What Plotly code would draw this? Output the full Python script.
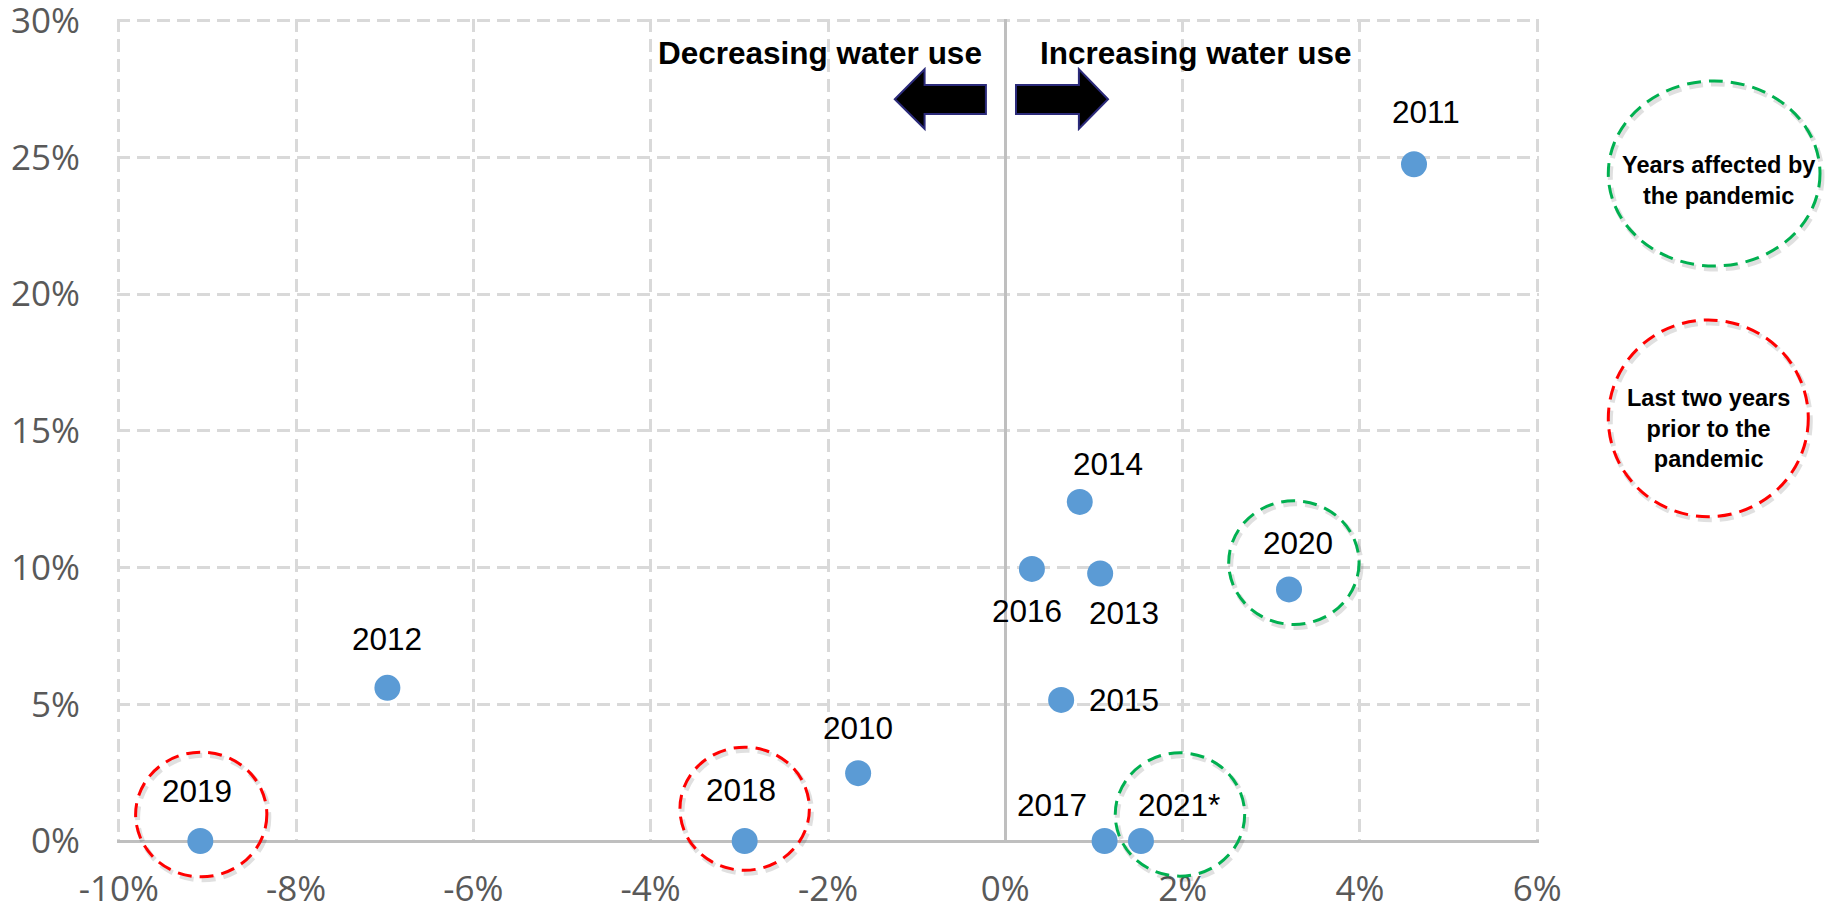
import plotly.graph_objects as go

# ---------------- data ----------------
years = ["2010", "2011", "2012", "2013", "2014", "2015", "2016", "2017", "2018", "2019", "2020", "2021*"]
change_water_use = [-1.66, 4.61, -6.97, 1.07, 0.84, 0.63, 0.30, 1.12, -2.94, -9.08, 3.20, 1.53]   # x, %
other_metric = [2.48, 24.75, 5.60, 9.78, 12.40, 5.16, 9.95, 0.0, 0.0, 0.0, 9.20, 0.0]              # y, %

x_tick_vals = [-10, -8, -6, -4, -2, 0, 2, 4, 6]
x_tick_text = ["-10%", "-8%", "-6%", "-4%", "-2%", "0%", "2%", "4%", "6%"]
y_tick_vals = [0, 5, 10, 15, 20, 25, 30]
y_tick_text = ["0%", "5%", "10%", "15%", "20%", "25%", "30%"]

pandemic_years = ["2020", "2021*"]
pre_pandemic_years = ["2018", "2019"]

header_left = "Decreasing water use"
header_right = "Increasing water use"
legend_green = "Years affected by<br>the pandemic"
legend_red = "Last two years<br>prior to the<br>pandemic"

# ---------------- styling / layout config ----------------
X_RANGE = (-10.02, 6.02)
Y_RANGE = (0, 30.06)
W, H = 1828, 912
ML, MR, MT, MB = 117, 289, 19, 71
PL, PR, PT, PB = ML, W - MR, MT, H - MB

# label offsets in pixels (dx, dy screen; dy positive = down)
LABEL_OFFSETS = {
    "2010": (0, -45), "2011": (12, -52), "2012": (0, -49), "2013": (24, 39),
    "2014": (28, -38), "2015": (63, 0), "2016": (-5, 42), "2017": (-53, -36),
    "2018": (-4, -51), "2019": (-3, -50), "2020": (9, -46), "2021*": (38, -36),
}
# highlight ellipse: centre shift from the point and half-sizes, in % units
ELL_GEOM = {
    "2019": (0.01, 0.97, 0.74, 2.28),
    "2018": (0.0, 1.18, 0.73, 2.25),
    "2020": (0.055, 0.98, 0.735, 2.26),
    "2021*": (0.44, 0.97, 0.73, 2.255),
}


def px_x(px):
    return (px - PL) / (PR - PL)


def px_y(py):
    return (PB - py) / (PB - PT)


def data_x(x):
    return (x - X_RANGE[0]) / (X_RANGE[1] - X_RANGE[0])


def data_y(y):
    return (y - Y_RANGE[0]) / (Y_RANGE[1] - Y_RANGE[0])


GRID = "#D9D9D9"
AXIS = "#BFBFBF"
TICK_FONT = dict(family="Open Sans, Liberation Sans, sans-serif", size=35, color="#595959")
LABEL_FONT = dict(family="Liberation Sans, Arial, sans-serif", size=31.5, color="black")
HEAD_FONT = dict(family="Liberation Sans, Arial, sans-serif", size=31.5, color="black")
LEG_FONT = dict(family="Liberation Sans, Arial, sans-serif", size=23.5, color="black")

fig = go.Figure()
fig.add_trace(go.Scatter(
    x=change_water_use, y=other_metric, mode="markers",
    marker=dict(size=26, color="#5B9BD5", line=dict(width=0)),
    cliponaxis=False, hoverinfo="text", text=years, showlegend=False,
))

annotations = []
for yr, xv, yv in zip(years, change_water_use, other_metric):
    dx, dy = LABEL_OFFSETS[yr]
    annotations.append(dict(
        x=xv, y=yv, xref="x", yref="y", text=yr, showarrow=False,
        xshift=dx, yshift=-dy, font=LABEL_FONT, xanchor="center", yanchor="middle",
    ))

# headers
annotations.append(dict(x=px_x(819.7), y=px_y(52.5), xref="paper", yref="paper", text="<b>%s</b>" % header_left,
                        showarrow=False, font=HEAD_FONT, xanchor="center", yanchor="middle"))
annotations.append(dict(x=px_x(1196.4), y=px_y(52.5), xref="paper", yref="paper", text="<b>%s</b>" % header_right,
                        showarrow=False, font=HEAD_FONT, xanchor="center", yanchor="middle"))
# legend texts
annotations.append(dict(x=px_x(1718), y=px_y(180), xref="paper", yref="paper", text="<b>%s</b>" % legend_green,
                        showarrow=False, font=LEG_FONT, xanchor="center", yanchor="middle", align="center"))
annotations.append(dict(x=px_x(1708.5), y=px_y(429), xref="paper", yref="paper", text="<b>%s</b>" % legend_red,
                        showarrow=False, font=LEG_FONT, xanchor="center", yanchor="middle", align="center"))

shapes = []


def dashed_ellipse(x0, y0, x1, y1, color):
    # soft shadow
    sx = 2 / (PR - PL)
    sy = 3 / (PB - PT)
    shapes.append(dict(type="circle", xref="paper", yref="paper",
                       x0=x0 + sx, x1=x1 + sx, y0=y0 - sy, y1=y1 - sy,
                       line=dict(color="rgba(0,0,0,0.12)", width=5, dash="14px,8px"), layer="above"))
    shapes.append(dict(type="circle", xref="paper", yref="paper", x0=x0, y0=y0, x1=x1, y1=y1,
                       line=dict(color=color, width=3, dash="14px,8px"), layer="above"))


for yr, xv, yv in zip(years, change_water_use, other_metric):
    if yr in pandemic_years or yr in pre_pandemic_years:
        col = "#00B050" if yr in pandemic_years else "#FF0000"
        sx, sy, rx, ry = ELL_GEOM[yr]
        cx, cy = xv + sx, yv + sy
        dashed_ellipse(data_x(cx - rx), data_y(cy - ry), data_x(cx + rx), data_y(cy + ry), col)

# legend ellipses
dashed_ellipse(px_x(1608.3), px_y(266), px_x(1820), px_y(81), "#00B050")
dashed_ellipse(px_x(1608.3), px_y(516.7), px_x(1808.3), px_y(320), "#FF0000")


def arrow_path(pts):
    return "M " + " L ".join("%f,%f" % (px_x(a), px_y(b)) for a, b in pts) + " Z"


left_arrow = [(894.8, 99.3), (924.6, 69.3), (924.6, 85), (985.9, 85), (985.9, 114), (924.6, 114), (924.6, 128.8)]
right_arrow = [(1108, 99.3), (1078.9, 69.3), (1078.9, 85), (1016, 85), (1016, 114), (1078.9, 114), (1078.9, 128.8)]
for pts in (left_arrow, right_arrow):
    shapes.append(dict(type="path", xref="paper", yref="paper", path=arrow_path(pts),
                       fillcolor="black", line=dict(color="#2B2A7A", width=2), layer="above"))

fig.update_layout(
    width=W, height=H,
    margin=dict(l=ML, r=MR, t=MT, b=MB, pad=0, autoexpand=False),
    paper_bgcolor="white", plot_bgcolor="white",
    annotations=annotations, shapes=shapes,
    xaxis=dict(range=list(X_RANGE), tickvals=x_tick_vals, ticktext=x_tick_text, tickfont=TICK_FONT,
               showgrid=True, gridcolor=GRID, gridwidth=2.5, griddash="13px,7px",
               zeroline=True, zerolinecolor=AXIS, zerolinewidth=2.5, showline=False,
               ticks="", ticklabelstandoff=24, fixedrange=True, automargin=False,
               ticklabeloverflow="allow"),
    yaxis=dict(range=list(Y_RANGE), tickvals=y_tick_vals, ticktext=y_tick_text, tickfont=TICK_FONT,
               showgrid=True, gridcolor=GRID, gridwidth=2.5, griddash="13px,7px",
               zeroline=True, zerolinecolor=AXIS, zerolinewidth=3, showline=False,
               ticks="", ticklabelstandoff=36, fixedrange=True, automargin=False,
               ticklabeloverflow="allow"),
    showlegend=False,
)

fig.write_html("out.html", config={"displayModeBar": False},
               post_script="document.body.style.margin='0';document.body.style.overflow='hidden';")
